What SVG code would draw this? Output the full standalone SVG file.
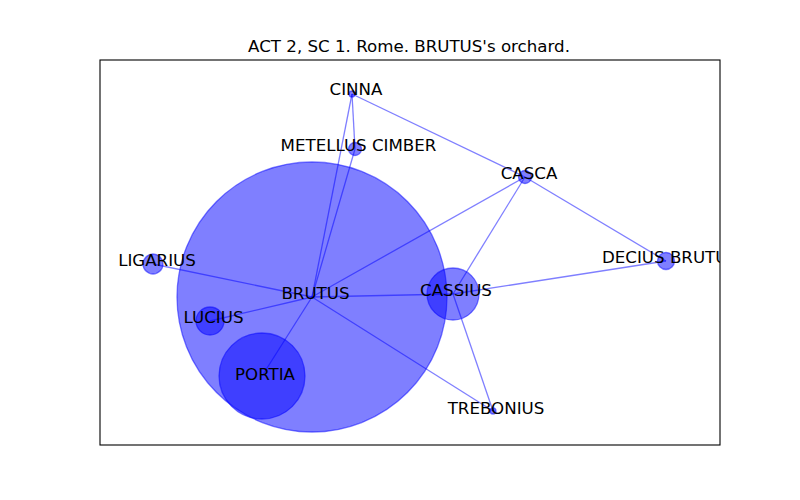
<svg xmlns="http://www.w3.org/2000/svg" width="800" height="500" viewBox="0 0 800 500">
<style>
.e{stroke:#0000ff;stroke-opacity:0.5;stroke-width:1.3;fill:none}
.n{fill:#0000ff;fill-opacity:0.5;stroke:#0000ff;stroke-opacity:0.5;stroke-width:1.3}
.t{font-family:"DejaVu Sans",sans-serif;font-size:16.67px;fill:#000;text-anchor:middle}
</style>
<defs><clipPath id="ax"><rect x="100" y="60" width="620" height="385"/></clipPath></defs>
<rect x="0" y="0" width="800" height="500" fill="#fff"/>
<text class="t" x="409" y="52">ACT 2, SC 1. Rome. BRUTUS's orchard.</text>
<g clip-path="url(#ax)">
<g id="edges">
<line class="e" x1="352" y1="94" x2="312" y2="297"/>
<line class="e" x1="352" y1="94" x2="355" y2="149"/>
<line class="e" x1="352" y1="94" x2="525" y2="177"/>
<line class="e" x1="355" y1="149" x2="312" y2="297"/>
<line class="e" x1="525" y1="177" x2="312" y2="297"/>
<line class="e" x1="525" y1="177" x2="453" y2="294"/>
<line class="e" x1="525" y1="177" x2="666" y2="261"/>
<line class="e" x1="453" y1="294" x2="312" y2="297"/>
<line class="e" x1="453" y1="294" x2="666" y2="261"/>
<line class="e" x1="453" y1="294" x2="493" y2="411"/>
<line class="e" x1="312" y1="297" x2="493" y2="411"/>
<line class="e" x1="312" y1="297" x2="153" y2="264"/>
<line class="e" x1="312" y1="297" x2="210" y2="321"/>
<line class="e" x1="312" y1="297" x2="262" y2="376"/>
</g>
<g id="BRUTUS"><circle class="n" cx="312" cy="297" r="135"/></g>
<g id="CASSIUS"><circle class="n" cx="453" cy="294" r="26"/></g>
<g id="PORTIA"><circle class="n" cx="262" cy="376" r="43"/></g>
<g id="LUCIUS"><circle class="n" cx="210" cy="321" r="14"/></g>
<g id="LIGARIUS"><circle class="n" cx="153" cy="264" r="10"/></g>
<g id="CINNA"><circle class="n" cx="352" cy="94" r="3"/></g>
<g id="METELLUS_CIMBER"><circle class="n" cx="355" cy="149" r="6.5"/></g>
<g id="CASCA"><circle class="n" cx="525" cy="177" r="6.5"/></g>
<g id="DECIUS_BRUTUS"><circle class="n" cx="666" cy="261" r="8.5"/></g>
<g id="TREBONIUS"><circle class="n" cx="493" cy="411" r="3"/></g>
<g id="labels">
<text class="t" x="356" y="95">CINNA</text>
<text class="t" x="358.5" y="151">METELLUS CIMBER</text>
<text class="t" x="529" y="179">CASCA</text>
<text class="t" x="157" y="266">LIGARIUS</text>
<text class="t" x="315.5" y="299">BRUTUS</text>
<text class="t" x="456" y="296">CASSIUS</text>
<text class="t" x="213.5" y="323">LUCIUS</text>
<text class="t" x="670" y="262.5">DECIUS BRUTUS</text>
<text class="t" x="265" y="379.5">PORTIA</text>
<text class="t" x="496" y="413.5">TREBONIUS</text>
</g>
</g>
<rect x="100" y="60" width="620" height="385" fill="none" stroke="#000" stroke-width="1.1"/>
</svg>
